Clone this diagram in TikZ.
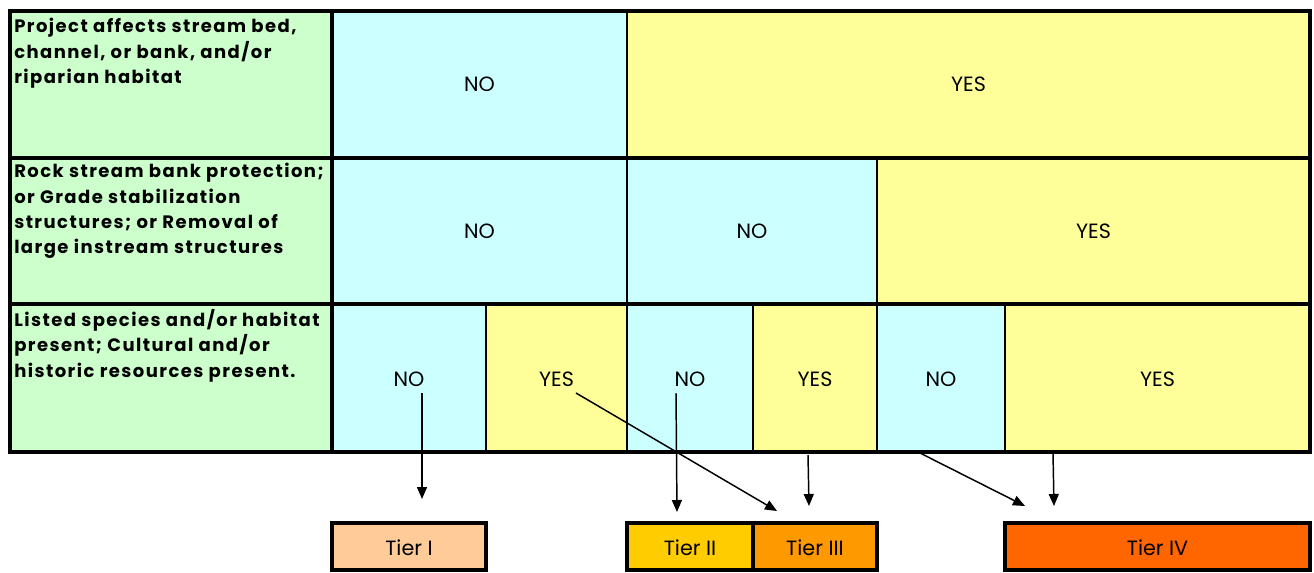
\documentclass[tikz,border=0pt]{standalone}
\usepackage{fontspec}
\setmainfont{Poppins}
\usetikzlibrary{arrows.meta}
\definecolor{cgreen}{HTML}{CCFFCC}
\definecolor{ccyan}{HTML}{CCFFFF}
\definecolor{cyell}{HTML}{FFFF99}
\definecolor{tierA}{HTML}{FFCC99}
\definecolor{tierB}{HTML}{FFCC00}
\definecolor{tierC}{HTML}{FF9900}
\definecolor{tierD}{HTML}{FF6600}
\tikzset{
  heavy/.style={line width=3pt},
  light/.style={line width=1.9pt},
  lbl/.style={font=\fontsize{15.5}{18}\selectfont, inner sep=0pt},
  head/.style={font=\fontsize{13.5}{19}\selectfont\bfseries\addfontfeature{LetterSpace=8}, inner sep=0pt, anchor=north west, align=left},
  arr/.style={line width=1.1pt, -{Triangle[length=9pt,width=7.5pt]}},
}
\begin{document}
\begin{tikzpicture}[x=0.75pt,y=-0.75pt]
\useasboundingbox (0,0) rectangle (1314,572);
% fills
\fill[cgreen] (10,11) rectangle (332,452);
\fill[ccyan] (332,11) rectangle (627,158);
\fill[cyell] (627,11) rectangle (1310,158);
\fill[ccyan] (332,158) rectangle (877,304);
\fill[cyell] (877,158) rectangle (1310,304);
\fill[ccyan] (332,304) rectangle (486,452);
\fill[cyell] (486,304) rectangle (627,452);
\fill[ccyan] (627,304) rectangle (753,452);
\fill[cyell] (753,304) rectangle (877,452);
\fill[ccyan] (877,304) rectangle (1005,452);
\fill[cyell] (1005,304) rectangle (1310,452);
% thin verticals
\draw[light] (627,11) -- (627,452);
\draw[light] (877,158) -- (877,452);
\draw[light] (486,304) -- (486,452);
\draw[light] (753,304) -- (753,452);
\draw[light] (1005,304) -- (1005,452);
% heavy lines
\draw[heavy] (332,11) -- (332,452);
\draw[heavy] (10,158) -- (1310,158);
\draw[heavy] (10,304) -- (1310,304);
\draw[heavy] (10,11) rectangle (1310,452);
% header texts
\node[head] (h1) at (14,18) {Project affects stream bed,\\channel, or bank, and/or\\riparian habitat};
\node[head] (h2) at (14,163) {Rock stream bank protection;\\or Grade stabilization\\structures; or Removal of\\large instream structures};
\node[head] (h3) at (14,309) {Listed species and/or habitat\\present; Cultural and/or\\historic resources present.};
% cell labels
\node[lbl] (r1a) at (479.5,84) {NO};
\node[lbl] (r1b) at (968.5,84) {YES};
\node[lbl] (r2a) at (479.5,231) {NO};
\node[lbl] (r2b) at (752,231) {NO};
\node[lbl] (r2c) at (1093.5,231) {YES};
\node[lbl] (r3a) at (409,379) {NO};
\node[lbl] (r3b) at (556.5,379) {YES};
\node[lbl] (r3c) at (690,379) {NO};
\node[lbl] (r3d) at (815,379) {YES};
\node[lbl] (r3e) at (941,379) {NO};
\node[lbl] (r3f) at (1157.5,379) {YES};
% tier boxes
\fill[tierA] (332,523) rectangle (486,570);
\fill[tierB] (627,523) rectangle (753,570);
\fill[tierC] (753,523) rectangle (877,570);
\fill[tierD] (1005,523) rectangle (1310,570);
\draw[heavy] (332,523) rectangle (486,570);
\draw[heavy] (627,523) rectangle (877,570);
\draw[heavy] (753,523) -- (753,570);
\draw[heavy] (1005,523) rectangle (1310,570);
\node[lbl] (t1) at (409,548) {Tier I};
\node[lbl] (t2) at (690,548) {Tier II};
\node[lbl] (t3) at (815,548) {Tier III};
\node[lbl] (t4) at (1157.5,548) {Tier IV};
% arrow coordinates
\coordinate (s1) at (422,393); \coordinate (e1) at (422,499);
\coordinate (s2) at (576,393); \coordinate (e2) at (777,511);
\coordinate (s3) at (676,393); \coordinate (e3) at (677,512);
\coordinate (s4) at (808,455); \coordinate (e4) at (809,506);
\coordinate (s5) at (920,453); \coordinate (e5) at (1025,506);
\coordinate (s6) at (1053,453); \coordinate (e6) at (1054,506);
\draw[arr] (s1) -- (e1);
\draw[arr] (s2) -- (e2);
\draw[arr] (s3) -- (e3);
\draw[arr] (s4) -- (e4);
\draw[arr] (s5) -- (e5);
\draw[arr] (s6) -- (e6);
\end{tikzpicture}
\end{document}
